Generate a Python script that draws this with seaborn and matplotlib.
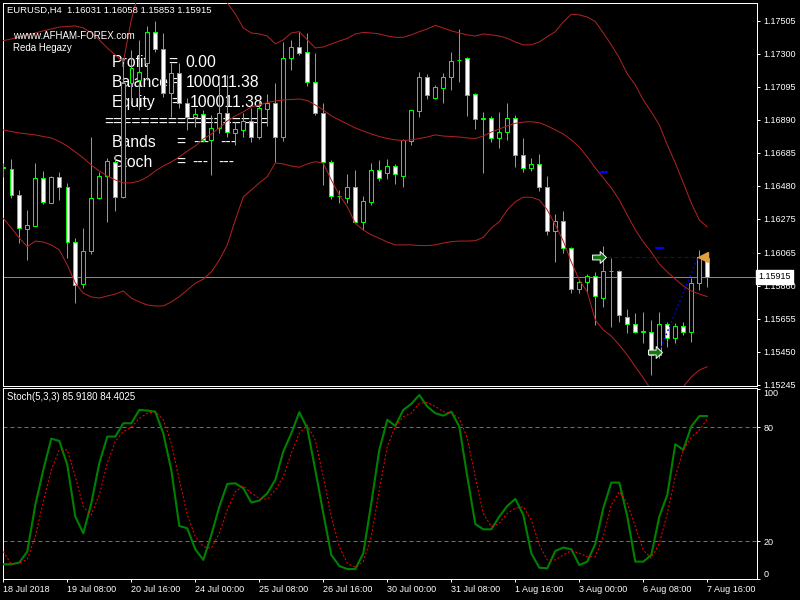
import numpy as np
import matplotlib
matplotlib.use("Agg")
import matplotlib.pyplot as plt
from matplotlib.transforms import IdentityTransform, blended_transform_factory
from matplotlib.path import Path
import seaborn as sns

# ---------------- data ----------------
opens = [1.16588, 1.16583, 1.16421, 1.16214, 1.16232, 1.16527, 1.16375, 1.16535, 1.16475, 1.16129,
         1.15869, 1.16073, 1.16403, 1.16539, 1.16630, 1.16409, 1.17119, 1.17137, 1.17245, 1.17433,
         1.17328, 1.17058, 1.17179, 1.16993, 1.16909, 1.16924, 1.16765, 1.16841, 1.16934, 1.16810,
         1.16827, 1.16883, 1.16781, 1.16955, 1.16993, 1.16785, 1.17272, 1.17344, 1.17309, 1.17127,
         1.16934, 1.16630, 1.16415, 1.16406, 1.16471, 1.16257, 1.16381, 1.16578, 1.16562, 1.16603,
         1.16543, 1.16760, 1.16947, 1.17154, 1.17027, 1.17089, 1.17158, 1.17258, 1.17272, 1.17048,
         1.16897, 1.16899, 1.16775, 1.16812, 1.16899, 1.16670, 1.16589, 1.16614, 1.16471, 1.16198,
         1.16262, 1.16092, 1.15837, 1.15881, 1.15920, 1.15785, 1.15951, 1.15951, 1.15664, 1.15622,
         1.15574, 1.15574, 1.15429, 1.15622, 1.15537, 1.15611, 1.15574, 1.15875, 1.16031]
highs = [1.16622, 1.16645, 1.16454, 1.16330, 1.16620, 1.16572, 1.16543, 1.16566, 1.16498, 1.16154,
         1.16216, 1.16785, 1.16564, 1.16651, 1.16671, 1.17243, 1.17324, 1.17386, 1.17473, 1.17506,
         1.17429, 1.17241, 1.17241, 1.17024, 1.16962, 1.16951, 1.16920, 1.17168, 1.17168, 1.16878,
         1.16930, 1.16962, 1.17013, 1.17048, 1.17117, 1.17375, 1.17386, 1.17437, 1.17427, 1.17303,
         1.16993, 1.16640, 1.16454, 1.16554, 1.16578, 1.16417, 1.16624, 1.16640, 1.16647, 1.16616,
         1.16769, 1.16951, 1.17189, 1.17175, 1.17106, 1.17179, 1.17313, 1.17454, 1.17282, 1.17055,
         1.16939, 1.16914, 1.16937, 1.16993, 1.16920, 1.16775, 1.16651, 1.16678, 1.16541, 1.16305,
         1.16324, 1.16100, 1.15899, 1.15932, 1.15947, 1.16106, 1.16034, 1.15957, 1.15713, 1.15688,
         1.15695, 1.15647, 1.15698, 1.15636, 1.15626, 1.15636, 1.15906, 1.16082, 1.16058]
lows = [1.16535, 1.16406, 1.16125, 1.16019, 1.16231, 1.16367, 1.16372, 1.16392, 1.16030, 1.15751,
        1.15844, 1.16055, 1.16398, 1.16257, 1.16326, 1.16404, 1.17013, 1.16951, 1.17137, 1.17313,
        1.17034, 1.16909, 1.16962, 1.16827, 1.16847, 1.16754, 1.16547, 1.16806, 1.16785, 1.16734,
        1.16785, 1.16754, 1.16771, 1.16852, 1.16630, 1.16760, 1.17199, 1.17292, 1.17102, 1.16920,
        1.16485, 1.16398, 1.16372, 1.16375, 1.16247, 1.16206, 1.16361, 1.16510, 1.16522, 1.16491,
        1.16475, 1.16734, 1.16909, 1.17019, 1.17022, 1.16996, 1.17075, 1.17127, 1.16916, 1.16833,
        1.16562, 1.16754, 1.16717, 1.16765, 1.16599, 1.16568, 1.16574, 1.16450, 1.16175, 1.16009,
        1.16061, 1.15816, 1.15813, 1.15813, 1.15616, 1.15726, 1.15605, 1.15636, 1.15568, 1.15564,
        1.15502, 1.15305, 1.15409, 1.15481, 1.15502, 1.15554, 1.15512, 1.15833, 1.15853]
closes = [1.16597, 1.16423, 1.16216, 1.16235, 1.16527, 1.16381, 1.16535, 1.16475, 1.16129, 1.15864,
          1.16073, 1.16403, 1.16539, 1.16632, 1.16409, 1.17117, 1.17212, 1.17187, 1.17433, 1.17328,
          1.17058, 1.17179, 1.16993, 1.16906, 1.16924, 1.16765, 1.16841, 1.16934, 1.16816, 1.16831,
          1.16883, 1.16781, 1.16962, 1.16993, 1.16781, 1.17272, 1.17344, 1.17307, 1.17127, 1.16934,
          1.16630, 1.16419, 1.16419, 1.16471, 1.16257, 1.16386, 1.16578, 1.16531, 1.16603, 1.16552,
          1.16765, 1.16951, 1.17154, 1.17046, 1.17092, 1.17154, 1.17255, 1.17262, 1.17046, 1.16897,
          1.16899, 1.16775, 1.16812, 1.16899, 1.16670, 1.16589, 1.16614, 1.16471, 1.16198, 1.16262,
          1.16092, 1.15837, 1.15881, 1.15920, 1.15796, 1.15951, 1.15953, 1.15678, 1.15622, 1.15574,
          1.15577, 1.15429, 1.15622, 1.15533, 1.15611, 1.15574, 1.15875, 1.16036, 1.15915]

bb_upper = [1.17381, 1.17392, 1.17404, 1.17417, 1.17429, 1.17442, 1.17454, 1.17466, 1.17469, 1.17473,
            1.17460, 1.17429, 1.17386, 1.17336, 1.17292, 1.17249, 1.17510, 1.17696, 1.17800, 1.17850,
            1.17880, 1.17880, 1.17860, 1.17830, 1.17790, 1.17750, 1.17700, 1.17665, 1.17615, 1.17547,
            1.17460, 1.17429, 1.17423, 1.17410, 1.17361, 1.17386, 1.17429, 1.17437, 1.17386, 1.17336,
            1.17342, 1.17361, 1.17379, 1.17395, 1.17423, 1.17432, 1.17429, 1.17423, 1.17410, 1.17402,
            1.17402, 1.17417, 1.17437, 1.17454, 1.17476, 1.17460, 1.17442, 1.17429, 1.17417, 1.17410,
            1.17423, 1.17417, 1.17410, 1.17396, 1.17373, 1.17355, 1.17355, 1.17373, 1.17406, 1.17437,
            1.17497, 1.17545, 1.17541, 1.17528, 1.17500, 1.17429, 1.17355, 1.17274, 1.17175, 1.17106,
            1.17013, 1.16939, 1.16858, 1.16734, 1.16622, 1.16498, 1.16373, 1.16268, 1.16224]
bb_mid = [1.16827, 1.16817, 1.16808, 1.16802, 1.16796, 1.16786, 1.16777, 1.16755, 1.16727, 1.16690,
          1.16653, 1.16609, 1.16572, 1.16541, 1.16516, 1.16498, 1.16498, 1.16510, 1.16535, 1.16572,
          1.16603, 1.16628, 1.16659, 1.16696, 1.16727, 1.16771, 1.16802, 1.16839, 1.16883, 1.16914,
          1.16939, 1.16970, 1.16982, 1.16997, 1.17007, 1.17013, 1.17016, 1.17019, 1.17010, 1.16982,
          1.16951, 1.16914, 1.16889, 1.16864, 1.16839, 1.16820, 1.16802, 1.16786, 1.16774, 1.16765,
          1.16761, 1.16765, 1.16774, 1.16783, 1.16796, 1.16789, 1.16786, 1.16783, 1.16777, 1.16774,
          1.16789, 1.16814, 1.16833, 1.16852, 1.16868, 1.16876, 1.16878, 1.16872, 1.16852, 1.16827,
          1.16802, 1.16765, 1.16721, 1.16659, 1.16591, 1.16529, 1.16467, 1.16392, 1.16299, 1.16206,
          1.16131, 1.16069, 1.15995, 1.15945, 1.15901, 1.15858, 1.15827, 1.15808, 1.15792]
bb_lower = [1.16278, 1.16218, 1.16156, 1.16102, 1.16137, 1.16131, 1.16113, 1.16082, 1.15988, 1.15877,
            1.15813, 1.15790, 1.15783, 1.15796, 1.15808, 1.15827, 1.15783, 1.15759, 1.15740, 1.15734,
            1.15734, 1.15759, 1.15792, 1.15833, 1.15875, 1.15901, 1.15945, 1.16019, 1.16113, 1.16268,
            1.16411, 1.16454, 1.16498, 1.16537, 1.16622, 1.16616, 1.16603, 1.16595, 1.16616, 1.16630,
            1.16620, 1.16516, 1.16423, 1.16350, 1.16247, 1.16206, 1.16175, 1.16154, 1.16131, 1.16113,
            1.16113, 1.16113, 1.16109, 1.16109, 1.16113, 1.16125, 1.16133, 1.16137, 1.16137, 1.16139,
            1.16160, 1.16218, 1.16257, 1.16330, 1.16381, 1.16409, 1.16409, 1.16392, 1.16330, 1.16237,
            1.16137, 1.16007, 1.15895, 1.15821, 1.15647, 1.15585, 1.15547, 1.15492, 1.15429, 1.15357,
            1.15287, 1.15212, 1.15175, 1.15175, 1.15206, 1.15233, 1.15293, 1.15336, 1.15357]

stoch_k = [7.9, 7.9, 8.8, 14.6, 39.1, 57.5, 74.0, 72.8, 60.2, 33.0,
           24.2, 40.0, 61.1, 75.1, 75.1, 82.1, 82.1, 89.1, 88.8, 88.2,
           76.8, 57.5, 28.1, 26.8, 15.8, 10.2, 23.3, 38.2, 50.2, 50.5,
           47.9, 40.4, 41.4, 45.3, 52.3, 67.2, 76.8, 87.9, 79.5, 57.5,
           34.7, 12.8, 7.0, 5.4, 5.4, 13.7, 40.0, 68.1, 83.9, 80.7,
           89.1, 92.3, 97.0, 90.9, 87.4, 86.1, 88.2, 80.4, 54.0, 29.1,
           26.3, 26.3, 33.0, 38.6, 42.3, 33.9, 13.7, 6.1, 5.8, 14.9,
           16.7, 15.8, 7.5, 9.3, 18.6, 37.4, 50.9, 50.9, 33.0, 9.3,
           9.3, 12.8, 33.0, 44.4, 71.1, 68.1, 80.4, 85.9, 85.92]
stoch_d = [14.6, 7.9, 8.4, 10.5, 22.5, 40.9, 57.5, 68.1, 68.1, 54.0,
           38.2, 33.9, 44.4, 61.1, 72.5, 77.7, 80.0, 84.7, 87.4, 88.2,
           83.9, 71.6, 52.3, 33.9, 22.5, 17.2, 16.3, 24.2, 36.5, 46.1,
           49.1, 45.3, 42.6, 42.1, 47.0, 54.0, 66.3, 76.8, 81.2, 73.3,
           54.0, 33.0, 17.2, 8.4, 6.3, 9.3, 22.5, 47.0, 69.8, 80.4,
           85.6, 87.4, 92.6, 93.0, 90.9, 88.2, 87.4, 84.7, 74.2, 54.0,
           34.7, 27.7, 29.5, 34.7, 37.4, 38.2, 31.2, 18.1, 10.2, 10.2,
           12.8, 15.1, 13.7, 11.9, 11.9, 22.5, 39.1, 46.1, 40.0, 27.7,
           15.4, 11.1, 18.9, 34.7, 54.0, 68.1, 74.7, 78.6, 84.40]

price_ticks = [1.17505, 1.17300, 1.17095, 1.16890, 1.16685, 1.16480,
               1.16275, 1.16065, 1.15860, 1.15655, 1.15450, 1.15245]
stoch_ticks = [100, 80, 20, 0]
stoch_levels = [80, 20]
time_labels = ["18 Jul 2018", "19 Jul 08:00", "20 Jul 16:00", "24 Jul 00:00",
               "25 Jul 08:00", "26 Jul 16:00", "30 Jul 00:00", "31 Jul 08:00",
               "1 Aug 16:00", "3 Aug 00:00", "6 Aug 08:00", "7 Aug 16:00"]
time_label_bars = [0, 8, 16, 24, 32, 40, 48, 56, 64, 72, 80, 88]
last_price = 1.15915

trade_open_bar = [75, 82]
trade_open_price = [1.16036, 1.15450]
trade_close_bar = [87, 87]
trade_close_price = [1.16036, 1.16036]
trade_level_price = [1.16564, 1.16092]

# ---------------- style ----------------
sns.set_theme(style="dark", rc={"axes.facecolor": "black", "figure.facecolor": "black",
                                "axes.edgecolor": "white", "axes.grid": False})
plt.rcParams['font.family'] = ['Liberation Sans', 'DejaVu Sans']

W, H = 800, 600
fig = plt.figure(figsize=(8, 6), dpi=100, facecolor='black')


def frame(l, t, r, b):
    return [l / W, 1 - b / H, (r - l) / W, (b - t) / H]


ax = fig.add_axes(frame(2.7, 3, 757.3, 386))
ax2 = fig.add_axes(frame(2.7, 388.3, 757.3, 579.3))

n = len(opens)
x = np.arange(n)
o = np.array(opens); c = np.array(closes); hi = np.array(highs); lo = np.array(lows)
bull = c >= o
GREEN = '#00FF00'
PX = 0.72  # one pixel in points

for a in (ax, ax2):
    a.set_facecolor('black')
    for s in a.spines.values():
        s.set_color('white')
        s.set_linewidth(PX)
    a.set_xlim(-0.075, 94.25)

ax.set_ylim(1.15237, 1.17615)
ax2.set_ylim(0, 100.5)

# current price line
ax.axhline(last_price, color='#778899', lw=PX, zorder=1)

# candles
ax.vlines(x, lo, hi, color=GREEN, lw=PX, zorder=3)
ax.bar(x, np.abs(c - o), bottom=np.minimum(o, c), width=0.45,
       color=np.where(bull, 'black', 'white'), edgecolor=GREEN, linewidth=PX, zorder=4)

# Bollinger bands
for band in (bb_upper, bb_mid, bb_lower):
    sns.lineplot(x=x, y=band, ax=ax, color='#B22222', linewidth=PX, zorder=5)

# trades
ax.plot([trade_open_bar[0] - 0.4, trade_close_bar[0]], [trade_open_price[0], trade_close_price[0]],
        color='#0000FF', lw=PX, ls=(0, (4, 3)), zorder=6)
ax.plot([trade_open_bar[1], trade_close_bar[1] - 0.2], [trade_open_price[1], trade_close_price[1]],
        color='#0000FF', lw=PX * 1.4, ls=(0, (1.2, 2)), zorder=6)
for b, p in zip(trade_open_bar, trade_level_price):
    ax.plot([b - 0.45, b + 0.45], [p, p], color='#0000FF', lw=1.6, zorder=6)
arrow = Path([(-1, -0.35), (0.1, -0.35), (0.1, -0.85), (1, 0), (0.1, 0.85), (0.1, 0.35), (-1, 0.35), (-1, -0.35)],
             [Path.MOVETO] + [Path.LINETO] * 6 + [Path.CLOSEPOLY])
for b, p in zip(trade_open_bar, trade_open_price):
    ax.plot([b - 0.5], [p], marker=arrow, markersize=10, markerfacecolor='#127812',
            markeredgecolor='white', markeredgewidth=0.7, zorder=7)
ax.plot([trade_close_bar[0] + 0.5], [trade_close_price[0]], marker='<', markersize=6.5,
        markerfacecolor='#E0A040', markeredgecolor='#E0A040', zorder=7)

# price axis ticks
ax.yaxis.tick_right()
ax.set_yticks(price_ticks)
ax.set_yticklabels([f"{v:.5f}" for v in price_ticks])
ax.tick_params(axis='y', which='both', right=True, left=False, length=3 * PX, width=PX,
               colors='white', labelcolor='white', labelsize=6.5, pad=3 * PX, direction='out')
ax.tick_params(axis='x', bottom=False, labelbottom=False)
ax.set_xlabel(''); ax.set_ylabel('')

# current price label
ax.text(1.0015, last_price, f"{last_price:.5f}", transform=blended_transform_factory(ax.transAxes, ax.transData),
        ha='left', va='center', color='black', fontsize=6.5, zorder=10,
        bbox=dict(boxstyle='square,pad=0.25', facecolor='white', edgecolor='white'))

# stochastic
sns.lineplot(x=x, y=stoch_k, ax=ax2, color='#008000', linewidth=2 * PX * 1.05, zorder=4)
sns.lineplot(x=x, y=stoch_d, ax=ax2, color='#FF0000', linewidth=PX, zorder=5)
ax2.lines[-1].set_linestyle((0, (2, 2)))
for lv in stoch_levels:
    ax2.axhline(lv, color='#E020E0', lw=PX, ls=(0, (4, 3)), zorder=2)
ax2.yaxis.tick_right()
ax2.set_yticks(stoch_ticks)
ax2.set_yticklabels([str(v) for v in stoch_ticks])
ax2.tick_params(axis='y', right=True, left=False, length=3 * PX, width=PX, colors='white',
                labelcolor='white', labelsize=6.5, pad=3 * PX, direction='out')
lbls = ax2.get_yticklabels()
lbls[0].set_va('top')
lbls[-1].set_va('bottom')
ax2.set_xticks(time_label_bars)
ax2.set_xticklabels(time_labels, ha='left')
ax2.tick_params(axis='x', bottom=True, length=3 * PX, width=PX, colors='white', labelcolor='white',
                labelsize=6.5, pad=2.5 * PX, direction='out')
ax2.set_xlabel(''); ax2.set_ylabel('')

# ---------------- texts ----------------
T = IdentityTransform()


def px_text(axis, xp, yp, s, size, **kw):
    axis.text(xp, H - yp, s, transform=T, color='white', fontsize=size, va='center', ha='left',
              zorder=kw.pop('zorder', 2), **kw)


px_text(ax, 7, 10.7, "EURUSD,H4  1.16031 1.16058 1.15853 1.15915", 6.8, zorder=8)
px_text(ax, 13, 35.7, "wwww.AFHAM-FOREX.com", 7, zorder=8)
px_text(ax, 13, 48.3, "Reda Hegazy", 7, zorder=8)

BIG = 11.3
px_text(ax, 112, 62.3, "Profit", BIG)
px_text(ax, 168, 62.3, "=", BIG)
px_text(ax, 185.7, 62.3, "0.00", BIG)
px_text(ax, 112, 82.3, "Balance", BIG)
px_text(ax, 168, 82.3, "=", BIG)
px_text(ax, 185.7, 82.3, "100011.38", BIG)
px_text(ax, 112, 102.3, "Equity", BIG)
px_text(ax, 171, 102.3, "=", BIG)
px_text(ax, 189.3, 102.3, "100011.38", BIG)
px_text(ax, 104, 122, "=" * 18, BIG)
px_text(ax, 112, 142.3, "Bands", BIG)
px_text(ax, 176, 142.3, "=", BIG)
px_text(ax, 193.3, 142.3, "---", BIG)
px_text(ax, 220, 142.3, "---", BIG)
px_text(ax, 112, 162.3, "Stoch", BIG)
px_text(ax, 176, 162.3, "=", BIG)
px_text(ax, 192.7, 162.3, "---", BIG)
px_text(ax, 218.3, 162.3, "---", BIG)

px_text(ax2, 7, 397.3, "Stoch(5,3,3) 85.9180 84.4025", 7, zorder=8)

fig.savefig("out.png", dpi=100, facecolor='black')
